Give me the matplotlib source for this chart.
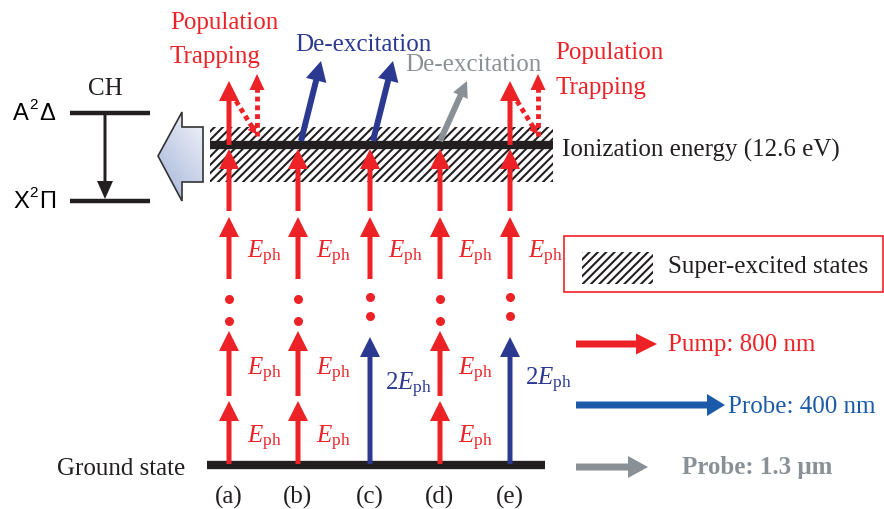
import numpy as np
import matplotlib.pyplot as plt
from matplotlib.patches import Rectangle, Polygon
from matplotlib.colors import LinearSegmentedColormap

plt.rcParams['font.family'] = ['Liberation Serif', 'DejaVu Serif']
plt.rcParams['mathtext.fontset'] = 'custom'
plt.rcParams['mathtext.rm'] = 'Liberation Serif'
plt.rcParams['mathtext.it'] = 'Liberation Serif:italic'
plt.rcParams['hatch.linewidth'] = 1.5

# columns of the scheme
col_x = [229, 298, 370, 440, 510]
col_lab = ['(a)', '(b)', '(c)', '(d)', '(e)']
col_probe = [False, False, True, False, True]          # 2E_ph blue probe at the bottom
col_top = ['trap', 'deex', 'deex', 'deex_ir', 'trap']   # what happens above the ionization level

# levels (pixel rows)
y_ground = 466
y_ion = 146
pump_steps = [(465, 402), (397, 332), (280, 218), (212, 150)]
probe_step = (465, 338)
eph_y = [438, 370, 253]
twoe_y = [385, 380]

red = '#ec2227'
navy = '#2b3990'
grey = '#8a9196'
blue = '#1b5aa8'
black = '#231f20'

fig = plt.figure(figsize=(8.84, 5.10), dpi=100)
ax = fig.add_axes([0, 0, 1, 1])
ax.set_xlim(0, 884)
ax.set_ylim(510, 0)
ax.axis('off')


def arr(x0, y0, x1, y1, c, w=5, hw=20, hl=20):
    ax.arrow(x0, y0, x1 - x0, y1 - y0, width=w, head_width=hw, head_length=hl,
             length_includes_head=True, fc=c, ec='none', lw=0, zorder=5)


# super-excited band + ionization level
ax.add_patch(Rectangle((210, 128), 343, 55, facecolor='white', edgecolor=black,
                       hatch='////', lw=0, zorder=1))
ax.plot([210, 553], [y_ion, y_ion], lw=6, color=black, solid_capstyle='butt', zorder=4)
ax.plot([207, 545], [y_ground, y_ground], lw=6, color=black, solid_capstyle='butt', zorder=4)
ax.text(562, 150, 'Ionization energy (12.6 eV)', fontsize=18, va='center', color=black)
ax.text(57, 469, 'Ground state', fontsize=18, va='center', color=black)

for i, x in enumerate(col_x):
    ax.text(x, 497, col_lab[i], fontsize=18, ha='center', va='center', color=black)
    if col_probe[i]:
        arr(x, probe_step[0], x, probe_step[1], navy)
        ax.plot([x, x], [298, 317], 'o', ms=6.5, color=red, mec='none')
        steps = pump_steps[2:]
        ax.text(x + 15, twoe_y[col_probe[:i].count(True)], r'$2E_\mathrm{ph}$',
                fontsize=18, color=navy, va='center')
        ax.text(x + 18, eph_y[2], r'$E_\mathrm{ph}$', fontsize=18, color=red, va='center')
    else:
        ax.plot([x, x], [300, 322], 'o', ms=6.5, color=red, mec='none')
        steps = pump_steps
        for yy in eph_y:
            ax.text(x + 18, yy, r'$E_\mathrm{ph}$', fontsize=18, color=red, va='center')
    for y0, y1 in steps:
        arr(x, y0, x, y1, red)

    kind = col_top[i]
    if kind == 'trap':
        arr(x, y_ion, x, 82, red)
        ax.plot([x + 7, x + 25], [102, 131], ls=(0, (1, 0.8)), lw=3.5, color=red,
                solid_capstyle='butt', zorder=5)
        arr(x + 22, 127, x + 27, 135, red, w=0.5, hw=10, hl=8)
        ax.plot([x + 28, x + 28], [137, 90], ls=(0, (1, 0.8)), lw=3.5, color=red, zorder=5)
        arr(x + 28, 92, x + 28, 75, red, w=0.5, hw=15, hl=16)
    elif kind == 'deex':
        arr(x + 3, 142, x + 23, 62, navy, w=6, hw=21, hl=20)
    else:
        arr(x, 142, x + 27, 82, grey, w=6, hw=16, hl=16)

ax.text(170, 23, 'Population', fontsize=18, color=red, va='center')
ax.text(170, 57, 'Trapping', fontsize=18, color=red, va='center')
ax.text(555, 53, 'Population', fontsize=18, color=red, va='center')
ax.text(555, 88, 'Trapping', fontsize=18, color=red, va='center')
ax.text(295, 45, 'De-excitation', fontsize=18, color=navy, va='center')
ax.text(405, 65, 'De-excitation', fontsize=18, color=grey, va='center')

# CH inset
ax.text(105, 89, 'CH', fontsize=18, ha='center', va='center', color=black)
ax.plot([70, 150], [114, 114], lw=3.2, color=black, solid_capstyle='butt')
ax.plot([70, 150], [202, 202], lw=3.2, color=black, solid_capstyle='butt')
for yy, a, b in [(114, 'A', 'Δ'), (202, 'X', 'Π')]:
    ax.text(13, yy, a, fontsize=17, family='Liberation Sans', va='center')
    ax.text(29, yy - 9, '2', fontsize=11, family='Liberation Sans', va='center')
    ax.text(39, yy, b, fontsize=17, family='Liberation Sans', va='center')
arr(105, 114, 105, 200, black, w=3, hw=16, hl=18)

blk = Polygon([(158, 157), (182, 113), (182, 128), (203, 128), (203, 183), (182, 183),
               (182, 202)], closed=True, facecolor='none', edgecolor='#333333', lw=1.2, zorder=3)
ax.add_patch(blk)
gx, gy = np.meshgrid(np.linspace(0, 1, 50), np.linspace(0, 1, 50))
g = 0.6 * gy + 0.4 * (1 - gx)
cm = LinearSegmentedColormap.from_list('b', ['#f2f4fa', '#a3b3d8'])
im = ax.imshow(g, extent=(158, 203, 202, 113), cmap=cm, zorder=2, aspect='auto')
im.set_clip_path(blk)

# legend
ax.add_patch(Rectangle((564, 237), 319, 56, fill=False, edgecolor=red, lw=1.2))
ax.add_patch(Rectangle((582, 253), 71, 32, facecolor='white', edgecolor=black,
                       hatch='////', lw=0))
ax.text(668, 267, 'Super-excited states', fontsize=18, va='center', color=black)

arr(576, 345, 657, 345, red, w=7, hw=21, hl=21)
ax.text(668, 345, 'Pump: 800 nm', fontsize=18, color=red, va='center')
arr(576, 406, 725, 406, blue, w=7, hw=22, hl=18)
ax.text(728, 407, 'Probe: 400 nm', fontsize=18, color=blue, va='center')
arr(576, 468, 648, 468, grey, w=7, hw=22, hl=20)
ax.text(682, 468, 'Probe: 1.3 μm', fontsize=18, color=grey, va='center', weight='bold')

fig.savefig('out.png', dpi=100)
